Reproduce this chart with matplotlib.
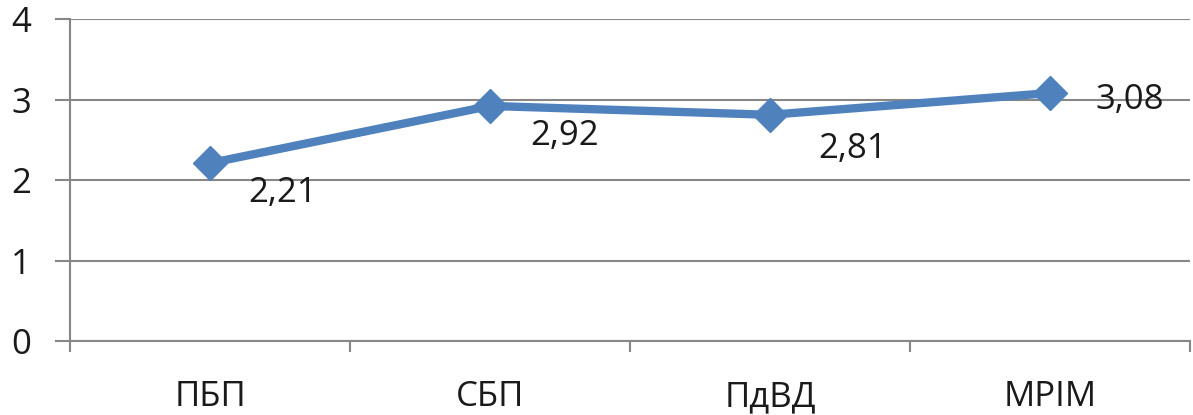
import matplotlib.pyplot as plt
import numpy as np

categories = ['ПБП', 'СБП', 'ПдВД', 'МРІМ']
values = [2.21, 2.92, 2.81, 3.08]
value_labels = ['2,21', '2,92', '2,81', '3,08']

# label offsets in pixels (x, y) relative to each point
label_offsets = [(38, -30), (40, -30), (48, -34), (45, -7)]

plt.rcParams['font.family'] = ['Open Sans', 'DejaVu Sans']

fig = plt.figure(figsize=(11.93, 4.15), dpi=100)
ax = fig.add_axes([70/1193, 1-341/415, 1120/1193, 322/415])

grid_col = '#878787'
line_col = '#4F81BD'
text_col = '#1a1a1a'

x = np.arange(len(categories))
ax.plot(x, values, color=line_col, linewidth=6, marker='D', markersize=17,
		zorder=3, clip_on=False)

for xi, v, lab, (dx, dy) in zip(x, values, value_labels, label_offsets):
	ax.annotate(lab, (xi, v), xytext=(dx*0.72, dy*0.72), textcoords='offset points',
				ha='left', va='center', fontsize=25, color=text_col)

ax.set_xlim(-0.5, len(categories)-0.5)
ax.set_ylim(0, 4)
ax.set_yticks([0, 1, 2, 3, 4])
ax.set_yticklabels(['0', '1', '2', '3', '4'])
ax.set_xticks(x)
ax.set_xticklabels(categories)
ax.set_xticks(np.arange(-0.5, len(categories)), minor=True)

ax.yaxis.grid(True, color=grid_col, linewidth=1.5)
ax.set_axisbelow(True)

for s in ['top', 'right']:
	ax.spines[s].set_visible(False)
for s in ['left', 'bottom']:
	ax.spines[s].set_color(grid_col)
	ax.spines[s].set_linewidth(1.5)

ax.tick_params(axis='y', length=11, width=1.5, color=grid_col, labelsize=25,
			   labelcolor=text_col, pad=17)
ax.tick_params(axis='x', which='major', length=0, labelsize=25, labelcolor=text_col, pad=28)
ax.tick_params(axis='x', which='minor', length=8, width=1.5, color=grid_col)

fig.savefig('out.png', dpi=100)
